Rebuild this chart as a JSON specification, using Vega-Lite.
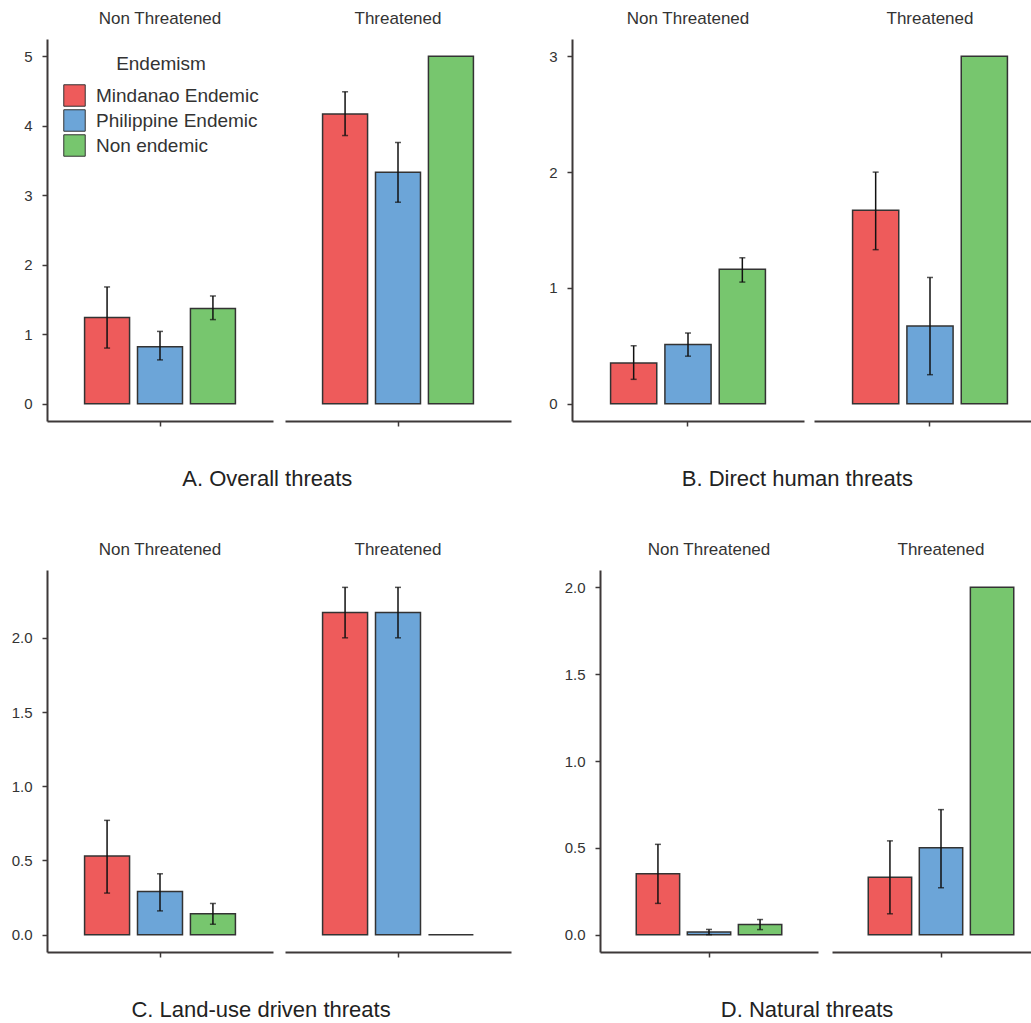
{
  "$schema": "https://vega.github.io/schema/vega-lite/v6.json",
  "background": "white",
  "padding": {"left": 11, "top": 10, "right": 0, "bottom": 0},
  "config": {
    "font": "Liberation Sans",
    "view": {"stroke": null},
    "axis": {"domainColor": "#3d3838", "domainWidth": 2, "tickColor": "#3d3838", "tickWidth": 1.5, "tickSize": 5, "labelColor": "#333333", "labelFontSize": 15, "labelPadding": 10, "grid": false},
    "header": {"labelFontSize": 17, "labelColor": "#333333", "labelPadding": 11},
    "legend": {"labelFontSize": 19, "titleFontSize": 19, "titleFontWeight": "normal", "titleColor": "#333333", "labelColor": "#333333", "labelLimit": 400, "symbolType": "square", "symbolSize": 460, "symbolStrokeColor": "#333333", "symbolStrokeWidth": 1, "titleAnchor": "middle", "labelOffset": 10, "titlePadding": 10},
    "title": {"fontSize": 22, "fontWeight": "normal", "color": "#222222", "anchor": "middle", "orient": "bottom", "offset": 42}
  },
  "data": {"values": [
    {"panel": "A", "status": "Non Threatened", "endemism": "Mindanao Endemic", "mean": 1.24, "lo": 0.80, "hi": 1.68},
    {"panel": "A", "status": "Non Threatened", "endemism": "Philippine Endemic", "mean": 0.82, "lo": 0.63, "hi": 1.04},
    {"panel": "A", "status": "Non Threatened", "endemism": "Non endemic", "mean": 1.37, "lo": 1.21, "hi": 1.55},
    {"panel": "A", "status": "Threatened", "endemism": "Mindanao Endemic", "mean": 4.17, "lo": 3.86, "hi": 4.49},
    {"panel": "A", "status": "Threatened", "endemism": "Philippine Endemic", "mean": 3.33, "lo": 2.90, "hi": 3.76},
    {"panel": "A", "status": "Threatened", "endemism": "Non endemic", "mean": 5.0, "lo": null, "hi": null},
    {"panel": "B", "status": "Non Threatened", "endemism": "Mindanao Endemic", "mean": 0.35, "lo": 0.21, "hi": 0.50},
    {"panel": "B", "status": "Non Threatened", "endemism": "Philippine Endemic", "mean": 0.51, "lo": 0.41, "hi": 0.61},
    {"panel": "B", "status": "Non Threatened", "endemism": "Non endemic", "mean": 1.16, "lo": 1.05, "hi": 1.26},
    {"panel": "B", "status": "Threatened", "endemism": "Mindanao Endemic", "mean": 1.67, "lo": 1.33, "hi": 2.00},
    {"panel": "B", "status": "Threatened", "endemism": "Philippine Endemic", "mean": 0.67, "lo": 0.25, "hi": 1.09},
    {"panel": "B", "status": "Threatened", "endemism": "Non endemic", "mean": 3.0, "lo": null, "hi": null},
    {"panel": "C", "status": "Non Threatened", "endemism": "Mindanao Endemic", "mean": 0.53, "lo": 0.28, "hi": 0.77},
    {"panel": "C", "status": "Non Threatened", "endemism": "Philippine Endemic", "mean": 0.29, "lo": 0.16, "hi": 0.41},
    {"panel": "C", "status": "Non Threatened", "endemism": "Non endemic", "mean": 0.14, "lo": 0.07, "hi": 0.21},
    {"panel": "C", "status": "Threatened", "endemism": "Mindanao Endemic", "mean": 2.17, "lo": 2.00, "hi": 2.34},
    {"panel": "C", "status": "Threatened", "endemism": "Philippine Endemic", "mean": 2.17, "lo": 2.00, "hi": 2.34},
    {"panel": "C", "status": "Threatened", "endemism": "Non endemic", "mean": 0.0, "lo": null, "hi": null},
    {"panel": "D", "status": "Non Threatened", "endemism": "Mindanao Endemic", "mean": 0.35, "lo": 0.18, "hi": 0.52},
    {"panel": "D", "status": "Non Threatened", "endemism": "Philippine Endemic", "mean": 0.015, "lo": 0.0, "hi": 0.03},
    {"panel": "D", "status": "Non Threatened", "endemism": "Non endemic", "mean": 0.058, "lo": 0.029, "hi": 0.087},
    {"panel": "D", "status": "Threatened", "endemism": "Mindanao Endemic", "mean": 0.33, "lo": 0.12, "hi": 0.54},
    {"panel": "D", "status": "Threatened", "endemism": "Philippine Endemic", "mean": 0.50, "lo": 0.27, "hi": 0.72},
    {"panel": "D", "status": "Threatened", "endemism": "Non endemic", "mean": 2.0, "lo": null, "hi": null}
  ]},
  "spacing": 51,
  "vconcat": [
    {
      "spacing": 37,
      "hconcat": [
        {
          "transform": [{"filter": "datum.panel === 'A'"}],
          "title": {"text": "A. Overall threats"},
          "facet": {"column": {"field": "status", "type": "nominal", "sort": ["Non Threatened", "Threatened"], "header": {"title": null}}},
          "spacing": 12,
          "spec": {
            "width": 226, "height": 382,
            "encoding": {
              "x": {"field": "endemism", "type": "nominal", "sort": ["Mindanao Endemic", "Philippine Endemic", "Non endemic"], "scale": {"paddingInner": 0.15, "paddingOuter": 0.71}, "axis": {"labels": false, "title": null, "values": ["Philippine Endemic"]}}
            },
            "layer": [
              {"mark": {"type": "bar", "stroke": "#333333", "strokeWidth": 1.5},
               "encoding": {
                 "y": {"field": "mean", "type": "quantitative", "scale": {"domain": [-0.25, 5.25], "nice": false, "zero": false}, "axis": {"title": null, "values": [0, 1, 2, 3, 4, 5], "format": "d"}},
                 "y2": {"datum": 0},
                 "color": {"field": "endemism", "type": "nominal", "scale": {"domain": ["Mindanao Endemic", "Philippine Endemic", "Non endemic"], "range": ["#EE5B5B", "#6CA5D8", "#77C66E"]}, "legend": {"title": "Endemism", "orient": "none", "legendX": 16, "legendY": 16, "rowPadding": -5}}
               }},
              {"transform": [{"filter": "isValid(datum.lo)"}], "mark": {"type": "rule", "strokeWidth": 1.5, "color": "#111111"},
               "encoding": {"y": {"field": "lo", "type": "quantitative", "axis": {"title": null}}, "y2": {"field": "hi"}}},
              {"transform": [{"filter": "isValid(datum.lo)"}], "mark": {"type": "tick", "size": 6, "thickness": 1.5, "color": "#111111"},
               "encoding": {"y": {"field": "hi", "type": "quantitative", "axis": {"title": null}}}},
              {"transform": [{"filter": "isValid(datum.lo)"}], "mark": {"type": "tick", "size": 6, "thickness": 1.5, "color": "#111111"},
               "encoding": {"y": {"field": "lo", "type": "quantitative", "axis": {"title": null}}}}
            ]
          }
        },
        {
          "transform": [{"filter": "datum.panel === 'B'"}],
          "title": {"text": "B. Direct human threats"},
          "facet": {"column": {"field": "status", "type": "nominal", "sort": ["Non Threatened", "Threatened"], "header": {"title": null}}},
          "spacing": 10,
          "spec": {
            "width": 232, "height": 382,
            "encoding": {
              "x": {"field": "endemism", "type": "nominal", "sort": ["Mindanao Endemic", "Philippine Endemic", "Non endemic"], "scale": {"paddingInner": 0.15, "paddingOuter": 0.71}, "axis": {"labels": false, "title": null, "values": ["Philippine Endemic"]}}
            },
            "layer": [
              {"mark": {"type": "bar", "stroke": "#333333", "strokeWidth": 1.5},
               "encoding": {
                 "y": {"field": "mean", "type": "quantitative", "scale": {"domain": [-0.15, 3.15], "nice": false, "zero": false}, "axis": {"title": null, "values": [0, 1, 2, 3], "format": "d"}},
                 "y2": {"datum": 0},
                 "color": {"field": "endemism", "type": "nominal", "scale": {"domain": ["Mindanao Endemic", "Philippine Endemic", "Non endemic"], "range": ["#EE5B5B", "#6CA5D8", "#77C66E"]}, "legend": {"title": "Endemism", "orient": "none", "legendX": 16, "legendY": 16, "rowPadding": -5}}
               }},
              {"transform": [{"filter": "isValid(datum.lo)"}], "mark": {"type": "rule", "strokeWidth": 1.5, "color": "#111111"},
               "encoding": {"y": {"field": "lo", "type": "quantitative", "axis": {"title": null}}, "y2": {"field": "hi"}}},
              {"transform": [{"filter": "isValid(datum.lo)"}], "mark": {"type": "tick", "size": 6, "thickness": 1.5, "color": "#111111"},
               "encoding": {"y": {"field": "hi", "type": "quantitative", "axis": {"title": null}}}},
              {"transform": [{"filter": "isValid(datum.lo)"}], "mark": {"type": "tick", "size": 6, "thickness": 1.5, "color": "#111111"},
               "encoding": {"y": {"field": "lo", "type": "quantitative", "axis": {"title": null}}}}
            ]
          }
        }
      ]
    },
    {
      "spacing": 53,
      "hconcat": [
        {
          "transform": [{"filter": "datum.panel === 'C'"}],
          "title": {"text": "C. Land-use driven threats"},
          "facet": {"column": {"field": "status", "type": "nominal", "sort": ["Non Threatened", "Threatened"], "header": {"title": null}}},
          "spacing": 12,
          "spec": {
            "width": 226, "height": 382,
            "encoding": {
              "x": {"field": "endemism", "type": "nominal", "sort": ["Mindanao Endemic", "Philippine Endemic", "Non endemic"], "scale": {"paddingInner": 0.15, "paddingOuter": 0.71}, "axis": {"labels": false, "title": null, "values": ["Philippine Endemic"]}}
            },
            "layer": [
              {"mark": {"type": "bar", "stroke": "#333333", "strokeWidth": 1.5},
               "encoding": {
                 "y": {"field": "mean", "type": "quantitative", "scale": {"domain": [-0.117, 2.457], "nice": false, "zero": false}, "axis": {"title": null, "values": [0, 0.5, 1, 1.5, 2], "format": ".1f"}},
                 "y2": {"datum": 0},
                 "color": {"field": "endemism", "type": "nominal", "scale": {"domain": ["Mindanao Endemic", "Philippine Endemic", "Non endemic"], "range": ["#EE5B5B", "#6CA5D8", "#77C66E"]}, "legend": {"title": "Endemism", "orient": "none", "legendX": 16, "legendY": 16, "rowPadding": -5}}
               }},
              {"transform": [{"filter": "isValid(datum.lo)"}], "mark": {"type": "rule", "strokeWidth": 1.5, "color": "#111111"},
               "encoding": {"y": {"field": "lo", "type": "quantitative", "axis": {"title": null}}, "y2": {"field": "hi"}}},
              {"transform": [{"filter": "isValid(datum.lo)"}], "mark": {"type": "tick", "size": 6, "thickness": 1.5, "color": "#111111"},
               "encoding": {"y": {"field": "hi", "type": "quantitative", "axis": {"title": null}}}},
              {"transform": [{"filter": "isValid(datum.lo)"}], "mark": {"type": "tick", "size": 6, "thickness": 1.5, "color": "#111111"},
               "encoding": {"y": {"field": "lo", "type": "quantitative", "axis": {"title": null}}}}
            ]
          }
        },
        {
          "transform": [{"filter": "datum.panel === 'D'"}],
          "title": {"text": "D. Natural threats"},
          "facet": {"column": {"field": "status", "type": "nominal", "sort": ["Non Threatened", "Threatened"], "header": {"title": null}}},
          "spacing": 14,
          "spec": {
            "width": 218, "height": 382,
            "encoding": {
              "x": {"field": "endemism", "type": "nominal", "sort": ["Mindanao Endemic", "Philippine Endemic", "Non endemic"], "scale": {"paddingInner": 0.15, "paddingOuter": 0.71}, "axis": {"labels": false, "title": null, "values": ["Philippine Endemic"]}}
            },
            "layer": [
              {"mark": {"type": "bar", "stroke": "#333333", "strokeWidth": 1.5},
               "encoding": {
                 "y": {"field": "mean", "type": "quantitative", "scale": {"domain": [-0.1, 2.1], "nice": false, "zero": false}, "axis": {"title": null, "values": [0, 0.5, 1, 1.5, 2], "format": ".1f"}},
                 "y2": {"datum": 0},
                 "color": {"field": "endemism", "type": "nominal", "scale": {"domain": ["Mindanao Endemic", "Philippine Endemic", "Non endemic"], "range": ["#EE5B5B", "#6CA5D8", "#77C66E"]}, "legend": {"title": "Endemism", "orient": "none", "legendX": 16, "legendY": 16, "rowPadding": -5}}
               }},
              {"transform": [{"filter": "isValid(datum.lo)"}], "mark": {"type": "rule", "strokeWidth": 1.5, "color": "#111111"},
               "encoding": {"y": {"field": "lo", "type": "quantitative", "axis": {"title": null}}, "y2": {"field": "hi"}}},
              {"transform": [{"filter": "isValid(datum.lo)"}], "mark": {"type": "tick", "size": 6, "thickness": 1.5, "color": "#111111"},
               "encoding": {"y": {"field": "hi", "type": "quantitative", "axis": {"title": null}}}},
              {"transform": [{"filter": "isValid(datum.lo)"}], "mark": {"type": "tick", "size": 6, "thickness": 1.5, "color": "#111111"},
               "encoding": {"y": {"field": "lo", "type": "quantitative", "axis": {"title": null}}}}
            ]
          }
        }
      ]
    }
  ]
}
